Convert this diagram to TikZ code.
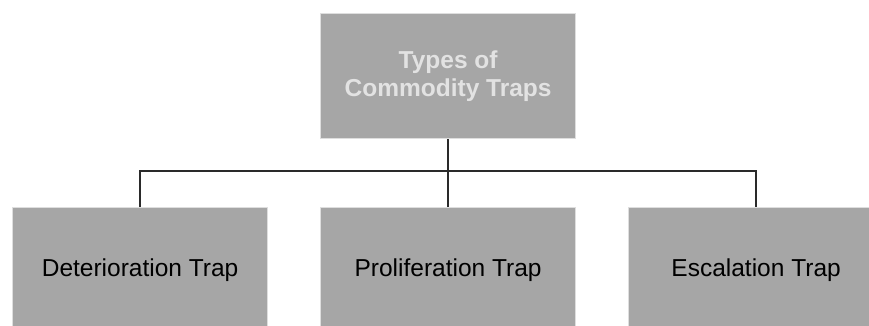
\documentclass[tikz,border=0pt]{standalone}
\usepackage{fontspec}
\setmainfont{Liberation Sans}
\begin{document}
\begin{tikzpicture}[x=1pt,y=-1pt,
  box/.style={draw=boxedge,fill=boxfill,line width=1.2pt,minimum width=255pt,minimum height=125pt,inner sep=0pt,anchor=north west,align=center},
  leaf/.style={box,font=\fontsize{24.5}{28}\selectfont},
  link/.style={draw=linkcol,line width=1.3pt},
  ]
\definecolor{boxfill}{HTML}{A6A6A6}
\definecolor{boxedge}{HTML}{DEDEDE}
\definecolor{toptext}{HTML}{E2E2E2}
\definecolor{linkcol}{HTML}{2A2A2A}
\useasboundingbox (0,0) rectangle (869,325);
\node[box,font=\bfseries\fontsize{24.5}{28}\selectfont,text=toptext] (root) at (320,13) {Types of\\Commodity Traps};
\node[leaf] (det) at (12,207) {Deterioration Trap};
\node[leaf] (pro) at (320,207) {Proliferation Trap};
\node[leaf] (esc) at (628,207) {Escalation Trap};
\coordinate (bus) at (0,171);
\draw[link] (root.south) -- (root.south |- bus);
\draw[link] (det.north) -- (det.north |- bus) -- (esc.north |- bus) -- (esc.north);
\draw[link] (pro.north) -- (pro.north |- bus);
\end{tikzpicture}
\end{document}
